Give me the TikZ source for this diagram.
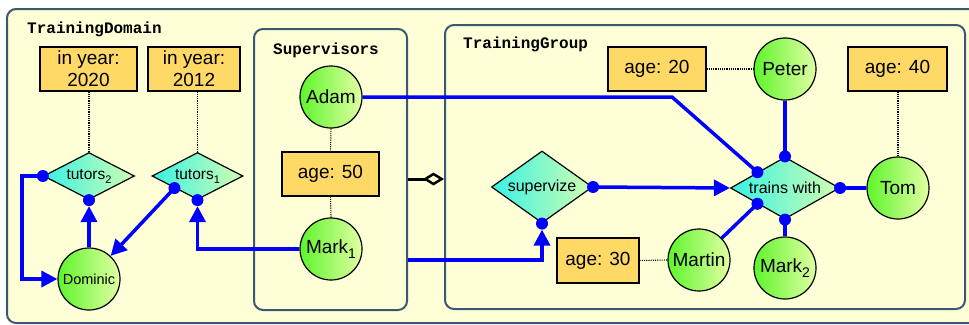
\documentclass[tikz,border=0pt]{standalone}
\usepackage{fontspec}
\setmainfont{Liberation Sans}
\setmonofont{Liberation Mono}
\usetikzlibrary{shapes.geometric,arrows.meta}

\definecolor{paper}{HTML}{FFFFD7}
\definecolor{frameline}{HTML}{3B5873}
\definecolor{notefill}{HTML}{FFD966}
\definecolor{objleft}{HTML}{5EF52C}
\definecolor{objright}{HTML}{E2FFA4}
\definecolor{relleft}{HTML}{38F2E4}
\definecolor{relright}{HTML}{D2FFB0}
\definecolor{linkblue}{HTML}{0000FF}

\newcommand{\lowidx}[3]{\raisebox{-#2}{\fontsize{#1}{#1}\selectfont #3}}

\tikzset{
  frame/.style={draw=frameline, line width=2pt, fill=paper, rounded corners=9pt, inner sep=0pt},
  grouptitle/.style={anchor=base west, inner sep=0pt, font=\fontsize{16}{16}\selectfont\ttfamily\bfseries},
  notebox/.style={draw=black, line width=1.2pt, fill=notefill, minimum height=44pt, inner sep=0pt,
    align=center, font=\fontsize{19}{22}\selectfont},
  objnode/.style={circle, draw=black, line width=1.2pt, left color=objleft, right color=objright,
    minimum size=62pt, inner sep=0pt, font=\fontsize{19}{19}\selectfont},
  relnode/.style={diamond, aspect=2, draw=black, line width=1.2pt, left color=relleft, right color=relright,
    inner sep=0pt, font=\fontsize{15.5}{15.5}\selectfont},
  noteline/.style={draw=black, line width=1.1pt, dash pattern=on 1.1pt off 1.1pt},
  link/.style={draw=linkblue, line width=3.5pt},
  headed/.style={-{Triangle[length=16pt,width=16pt]}},
  atdot/.style={shorten >=6pt},
  roledot/.style={fill=linkblue},
}

\begin{document}
\begin{tikzpicture}[x=1pt,y=-1pt]
\clip (0,0) rectangle (969,324);

% group frames
\node[frame, minimum width=978pt, minimum height=314pt] (domain) at (496,166) {};
\node[grouptitle] (domaintitle) at (27,33) {TrainingDomain};
\node[frame, minimum width=153pt, minimum height=281pt] (sup) at (330.5,169.5) {};
\node[grouptitle] (suptitle) at (273,54) {Supervisors};
\node[frame, minimum width=520pt, minimum height=284pt] (tg) at (705,167) {};
\node[grouptitle] (tgtitle) at (463,48) {TrainingGroup};

% notes
\node[notebox, minimum width=97pt] (y2020) at (88.5,69) {in year:\\2020};
\node[notebox, minimum width=92pt] (y2012) at (194,69) {in year:\\2012};
\node[notebox, minimum width=97pt] (a50) at (330.5,174) {age: 50};
\node[notebox, minimum width=98pt] (a20) at (657,69) {age: 20};
\node[notebox, minimum width=99pt] (a40) at (897.5,69) {age: 40};
\node[notebox, minimum width=82pt, minimum height=45pt] (a30) at (598,260.5) {age: 30};

% relations
\node[relnode, minimum width=91pt, minimum height=47pt] (t2) at (89,176) {tutors\lowidx{11}{4pt}{2}};
\node[relnode, minimum width=91pt, minimum height=47pt] (t1) at (197.5,176) {tutors\lowidx{11}{4pt}{1}};
\node[relnode, minimum width=101pt, minimum height=72pt, font=\fontsize{16}{16}\selectfont] (sv) at (542,187) {supervize};
\node[relnode, minimum width=109pt, minimum height=62pt, font=\fontsize{16}{16}\selectfont] (tw) at (785,188) {trains with};

% objects
\node[objnode, font=\fontsize{14.5}{14.5}\selectfont] (dominic) at (89,279) {Dominic};
\node[objnode] (adam) at (331,97) {Adam};
\node[objnode] (mark1) at (331,249) {Mark\lowidx{14}{5pt}{1}};
\node[objnode] (peter) at (785,69) {Peter};
\node[objnode] (tom) at (898,188) {Tom};
\node[objnode] (mark2) at (785,268) {Mark\lowidx{14}{5pt}{2}};
\node[objnode] (martin) at (699,260) {Martin};

% attribute notes
\draw[noteline] (t2.north |- y2020.south) -- (t2.north);
\draw[noteline] (t1.north |- y2012.south) -- (t1.north);
\draw[noteline] (adam.south) -- (a50.north);
\draw[noteline] (a50.south) -- (mark1.north);
\draw[noteline] (a20.east) -- (peter.west);
\draw[noteline] (tom.north |- a40.south) -- (tom.north);
\draw[noteline] (a30.east) -- (martin.west);

% aggregation between the groups
\coordinate (aggfrom) at ([yshift=-9.5pt]sup.east);
\draw[line width=3pt, -{Diamond[open, length=21pt, width=13pt, line width=2.5pt]}] (aggfrom) -- (aggfrom -| tg.west);

% role links
\coordinate (supout) at ([yshift=-90.5pt]sup.east);
\coordinate (bend) at (672,97);
\draw[link, headed] (t2.west) -- ++(-21,0) |- (dominic.west);
\draw[link, headed] (t1.south west) -- (dominic);
\draw[link, headed, atdot] (dominic.north) -- (t2.south);
\draw[link, headed, atdot] (mark1.west) -| (t1.south);
\draw[link, headed, atdot] (supout) -| (sv.south);
\draw[link] (adam.east) -- (bend) -- (tw.north west);
\draw[link, headed] (sv.east) -- (tw.west);
\draw[link] (peter) -- (tw.north);
\draw[link] (tom) -- (tw.east);
\draw[link] (mark2) -- (tw.south);
\draw[link] (martin) -- (tw.south west);

% role end points
\foreach \p in {t2.west, t2.south, t1.south west, t1.south, sv.south, sv.east,
                tw.north, tw.east, tw.south, tw.north west, tw.south west}
  \fill[roledot] (\p) circle (6pt);
\end{tikzpicture}
\end{document}
